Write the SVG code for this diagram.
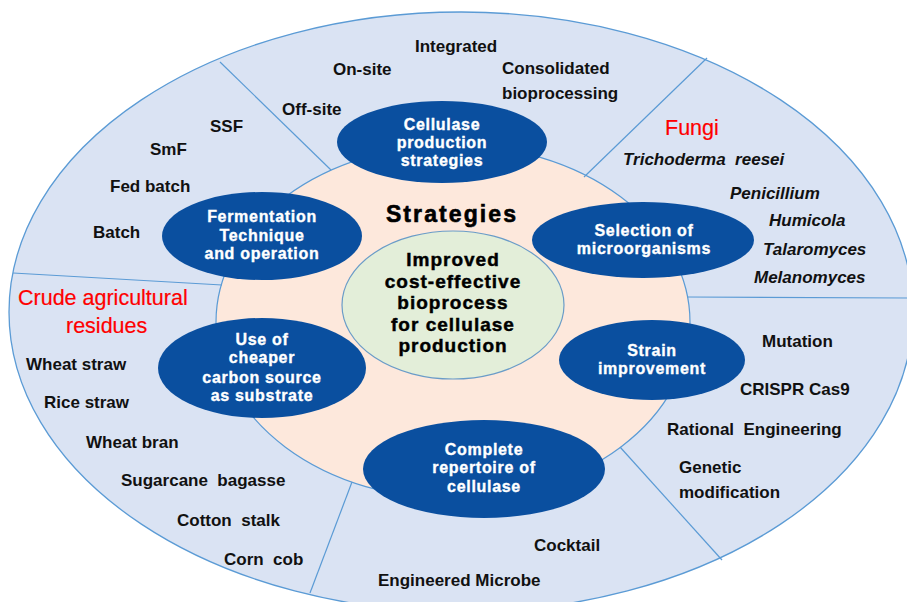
<svg xmlns="http://www.w3.org/2000/svg" width="907" height="602" viewBox="0 0 907 602">
  <style>
    .ring { fill: #dae3f3; stroke: #5b9bd5; stroke-width: 1.3; }
    .core { fill: #fde8dc; stroke: #5b9bd5; stroke-width: 1.2; }
    .hub { fill: #e3eed9; stroke: #6a9cc8; stroke-width: 1.2; }
    .node { fill: #0a4f9f; }
    .divider { stroke: #5b9bd5; stroke-width: 1.2; fill: none; }
    .nt { font-family: "Liberation Sans", Arial, sans-serif; font-weight: bold; font-size: 16px; fill: #ffffff; text-anchor: middle; letter-spacing: 0.7px; stroke: #ffffff; stroke-width: 0.35; }
    .lbl { font-family: "Liberation Sans", Arial, sans-serif; font-weight: bold; font-size: 17px; fill: #111111; }
    .it { font-style: italic; }
    .red { font-family: "Liberation Sans", Arial, sans-serif; font-size: 21.5px; fill: #ff0000; stroke: #ff0000; stroke-width: 0.2; }
    .hubt { font-family: "Liberation Sans", Arial, sans-serif; font-weight: bold; font-size: 19px; fill: #000000; text-anchor: middle; letter-spacing: 1px; stroke: #000; stroke-width: 0.45; }
    .title { font-family: "Liberation Sans", Arial, sans-serif; font-weight: bold; font-size: 23px; fill: #000000; text-anchor: middle; letter-spacing: 2.1px; stroke: #000; stroke-width: 0.6; }
  </style>

  <!-- background rings -->
  <g id="outer-ring">
    <ellipse class="ring" cx="461" cy="312" rx="452" ry="300"/>
  </g>
  <g id="inner-ring">
    <ellipse class="core" cx="453" cy="322" rx="237" ry="177"/>
  </g>

  <!-- sector dividers -->
  <g id="connectors">
    <line class="divider" x1="220" y1="62" x2="331" y2="170"/>
    <line class="divider" x1="707" y1="58" x2="584" y2="177"/>
    <line class="divider" x1="687" y1="297" x2="907" y2="298"/>
    <line class="divider" x1="620" y1="447" x2="722" y2="560"/>
    <line class="divider" x1="352" y1="482" x2="310" y2="593"/>
    <line class="divider" x1="13" y1="273" x2="222" y2="285"/>
  </g>

  <!-- centre -->
  <g id="strategies">
    <text class="title" x="452" y="222">Strategies</text>
  </g>
  <g id="goal">
    <ellipse class="hub" cx="453" cy="305" rx="111" ry="74"/>
    <text class="hubt" x="453" y="266">Improved</text>
    <text class="hubt" x="453" y="288">cost-effective</text>
    <text class="hubt" x="453" y="309">bioprocess</text>
    <text class="hubt" x="453" y="331">for cellulase</text>
    <text class="hubt" x="453" y="352">production</text>
  </g>

  <!-- strategy nodes -->
  <g id="production-strategies">
    <ellipse class="node" cx="442" cy="142" rx="105" ry="41"/>
    <text class="nt" x="442" y="130">Cellulase</text>
    <text class="nt" x="442" y="148">production</text>
    <text class="nt" x="442" y="166">strategies</text>
  </g>
  <g id="fermentation">
    <ellipse class="node" cx="262" cy="236" rx="100" ry="44"/>
    <text class="nt" x="262" y="222">Fermentation</text>
    <text class="nt" x="262" y="241">Technique</text>
    <text class="nt" x="262" y="259">and operation</text>
  </g>
  <g id="microorganisms">
    <ellipse class="node" cx="643" cy="240" rx="111" ry="38"/>
    <text class="nt" x="644" y="236">Selection of</text>
    <text class="nt" x="644" y="254">microorganisms</text>
  </g>
  <g id="carbon-source">
    <ellipse class="node" cx="262" cy="368" rx="104" ry="50"/>
    <text class="nt" x="262" y="345">Use of</text>
    <text class="nt" x="262" y="363">cheaper</text>
    <text class="nt" x="262" y="383">carbon source</text>
    <text class="nt" x="262" y="401">as substrate</text>
  </g>
  <g id="strain-improvement">
    <ellipse class="node" cx="652" cy="360" rx="93" ry="40"/>
    <text class="nt" x="652" y="356">Strain</text>
    <text class="nt" x="652" y="374">improvement</text>
  </g>
  <g id="repertoire">
    <ellipse class="node" cx="484" cy="469" rx="121" ry="49"/>
    <text class="nt" x="484" y="455">Complete</text>
    <text class="nt" x="484" y="473">repertoire of</text>
    <text class="nt" x="484" y="492">cellulase</text>
  </g>

  <!-- sector labels -->
  <g id="production-options">
    <text class="lbl" x="415" y="52">Integrated</text>
    <text class="lbl" x="333" y="75">On-site</text>
    <text class="lbl" x="502" y="74">Consolidated</text>
    <text class="lbl" x="502" y="99">bioprocessing</text>
    <text class="lbl" x="282" y="115">Off-site</text>
  </g>
  <g id="fermentation-options">
    <text class="lbl" x="210" y="132">SSF</text>
    <text class="lbl" x="150" y="155">SmF</text>
    <text class="lbl" x="110" y="192">Fed batch</text>
    <text class="lbl" x="93" y="238">Batch</text>
  </g>
  <g id="fungi">
    <text class="red" x="665" y="135">Fungi</text>
    <text class="lbl it" x="623" y="165" xml:space="preserve">Trichoderma  reesei</text>
    <text class="lbl it" x="730" y="199">Penicillium</text>
    <text class="lbl it" x="769" y="226">Humicola</text>
    <text class="lbl it" x="763" y="255">Talaromyces</text>
    <text class="lbl it" x="754" y="283">Melanomyces</text>
  </g>
  <g id="strain-options">
    <text class="lbl" x="762" y="347">Mutation</text>
    <text class="lbl" x="740" y="395">CRISPR Cas9</text>
    <text class="lbl" x="667" y="435" xml:space="preserve">Rational  Engineering</text>
    <text class="lbl" x="679" y="473">Genetic</text>
    <text class="lbl" x="679" y="498">modification</text>
  </g>
  <g id="repertoire-options">
    <text class="lbl" x="534" y="551">Cocktail</text>
    <text class="lbl" x="378" y="586">Engineered Microbe</text>
  </g>
  <g id="residues">
    <text class="red" x="18" y="305">Crude agricultural</text>
    <text class="red" x="66" y="333">residues</text>
    <text class="lbl" x="26" y="370">Wheat straw</text>
    <text class="lbl" x="44" y="408">Rice straw</text>
    <text class="lbl" x="86" y="448">Wheat bran</text>
    <text class="lbl" x="121" y="486" xml:space="preserve">Sugarcane  bagasse</text>
    <text class="lbl" x="177" y="526" xml:space="preserve">Cotton  stalk</text>
    <text class="lbl" x="224" y="565" xml:space="preserve">Corn  cob</text>
  </g>
</svg>
